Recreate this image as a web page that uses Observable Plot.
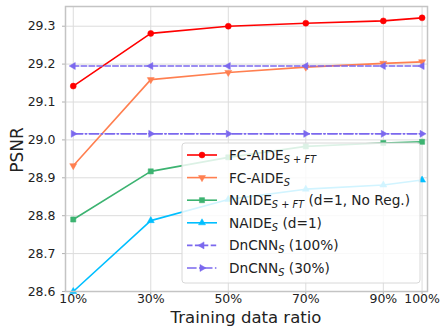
<!DOCTYPE html>
<html><head><meta charset="utf-8">
<script src="https://cdn.jsdelivr.net/npm/d3@7"></script>
<script src="https://cdn.jsdelivr.net/npm/@observablehq/plot@0.6"></script>
<style>body{margin:0;background:#fff} svg{font-family:"DejaVu Sans",sans-serif}</style>
</head><body><div id="chart"></div>
<script>
// ---- data ----
const ratios = [10, 30, 50, 70, 90, 100];
const fcAideSFT = [29.142, 29.281, 29.300, 29.308, 29.314, 29.322];
const fcAideS   = [28.932, 29.159, 29.178, 29.192, 29.202, 29.206];
const naideSFT  = [28.790, 28.917, 28.954, 28.983, 28.992, 28.995];
const naideS    = [28.600, 28.787, 28.843, 28.870, 28.881, 28.894];
const dncnn100  = [29.195, 29.195, 29.195, 29.195, 29.195, 29.195];
const dncnn30   = [29.016, 29.016, 29.016, 29.016, 29.016, 29.016];
const xTicks = [10, 30, 50, 70, 90, 100];
const yTicks = [28.6, 28.7, 28.8, 28.9, 29.0, 29.1, 29.2, 29.3];
const seriesNames = [
  [["FC-AIDE"], ["S", 1], [" + ", 0], ["FT", 1]],
  [["FC-AIDE"], ["S", 1]],
  [["NAIDE"], ["S", 1], [" + ", 0], ["FT", 1], [" (d=1, No Reg.)"]],
  [["NAIDE"], ["S", 1], [" (d=1)"]],
  [["DnCNN"], ["S", 1], [" (100%)"]],
  [["DnCNN"], ["S", 1], [" (30%)"]]
];
const seriesValues = [fcAideSFT, fcAideS, naideSFT, naideS, dncnn100, dncnn30];

// ---- styles ----
const styles = [
  {color: "#ff0000", symbol: "circle", rotate: 0, r: 3.0, dash: null},
  {color: "#ff7f50", symbol: "triangle", rotate: 180, r: 2.6, dash: null},
  {color: "#3cb371", symbol: "square", rotate: 0, r: 2.9, dash: null},
  {color: "#00bfff", symbol: "triangle", rotate: 0, r: 2.6, dash: null},
  {color: "#7b68ee", symbol: "triangle", rotate: -90, r: 2.6, dash: "5.5,2.4"},
  {color: "#7b68ee", symbol: "triangle", rotate: 90, r: 2.6, dash: "9.6,2.4,1.5,2.4"}
];

const series = seriesValues.map((vals, i) => ratios.map((x, j) => ({x, y: vals[j], s: i})));

const marks = [
  Plot.gridX(xTicks, {stroke: "#dcdcdc", strokeOpacity: 1, strokeWidth: 1}),
  Plot.gridY(yTicks, {stroke: "#dcdcdc", strokeOpacity: 1, strokeWidth: 1}),
  Plot.axisX(xTicks, {tickFormat: d => d + "%", tickSize: 3, tickPadding: 0, stroke: "#b0b0b0", fill: "#222", fontSize: 12.5, label: null}),
  Plot.axisY(yTicks, {tickFormat: d => d.toFixed(1), tickSize: 3, tickPadding: 7, stroke: "#b0b0b0", fill: "#222", fontSize: 12.5, label: null})
];
series.forEach((data, i) => {
  const st = styles[i];
  marks.push(Plot.line(data, {x: "x", y: "y", stroke: st.color, strokeWidth: 1.6, strokeDasharray: st.dash ?? undefined}));
  marks.push(Plot.dot(data, {x: "x", y: "y", fill: st.color, stroke: st.color, strokeWidth: 0.5, symbol: st.symbol, rotate: st.rotate, r: st.r}));
});
marks.push(Plot.frame({stroke: "#c4c4c4", strokeWidth: 1.5}));

const chart = Plot.plot({
  width: 440, height: 327,
  marginLeft: 65, marginRight: 13, marginTop: 6, marginBottom: 36,
  style: {fontFamily: "DejaVu Sans", background: "#fff"},
  x: {type: "linear", domain: [8, 101.4]},
  y: {type: "linear", domain: [28.6, 29.352]},
  marks
});
document.getElementById("chart").appendChild(chart);

// ---- axis labels & legend ----
const svg = d3.select(chart);
svg.append("text").attr("x", 246).attr("y", 323).attr("text-anchor", "middle")
  .attr("font-size", 16.5).attr("fill", "#222").text("Training data ratio");
svg.append("text").attr("transform", "translate(23,150) rotate(-90)").attr("text-anchor", "middle")
  .attr("font-size", 17).attr("fill", "#222").text("PSNR");

const lg = svg.append("g").attr("text-anchor", "start");
lg.append("rect").attr("x", 182).attr("y", 143).attr("width", 238).attr("height", 140)
  .attr("rx", 3).attr("fill", "#fff").attr("fill-opacity", 0.82).attr("stroke", "#d8d8d8").attr("stroke-width", 1);
const symFor = st => d3.symbol().type({circle: d3.symbolCircle, square: d3.symbolSquare, triangle: d3.symbolTriangle}[st.symbol]).size(Math.PI * st.r * st.r)();
seriesNames.forEach((parts, i) => {
  const st = styles[i];
  const cy = 155 + i * 22.6;
  lg.append("line").attr("x1", 187).attr("x2", 217).attr("y1", cy).attr("y2", cy)
    .attr("stroke", st.color).attr("stroke-width", 1.6).attr("stroke-dasharray", st.dash);
  lg.append("path").attr("d", symFor(st)).attr("transform", `translate(202,${cy}) rotate(${st.rotate})`)
    .attr("fill", st.color).attr("stroke", st.color).attr("stroke-width", 0.5);
  const t = lg.append("text").attr("x", 229).attr("y", cy + 5).attr("text-anchor", "start")
    .attr("font-size", 13.7).attr("fill", "#222");
  let inSub = false;
  parts.forEach(p => {
    const isSub = p.length > 1;
    const ts = t.append("tspan").text(p[0]);
    if (isSub) {
      ts.attr("font-size", 9.8);
      if (p[1]) ts.attr("font-style", "italic");
      if (!inSub) ts.attr("dy", 3);
    } else if (inSub) {
      ts.attr("dy", -3);
    }
    inSub = isSub;
  });
});
</script>
</body></html>
